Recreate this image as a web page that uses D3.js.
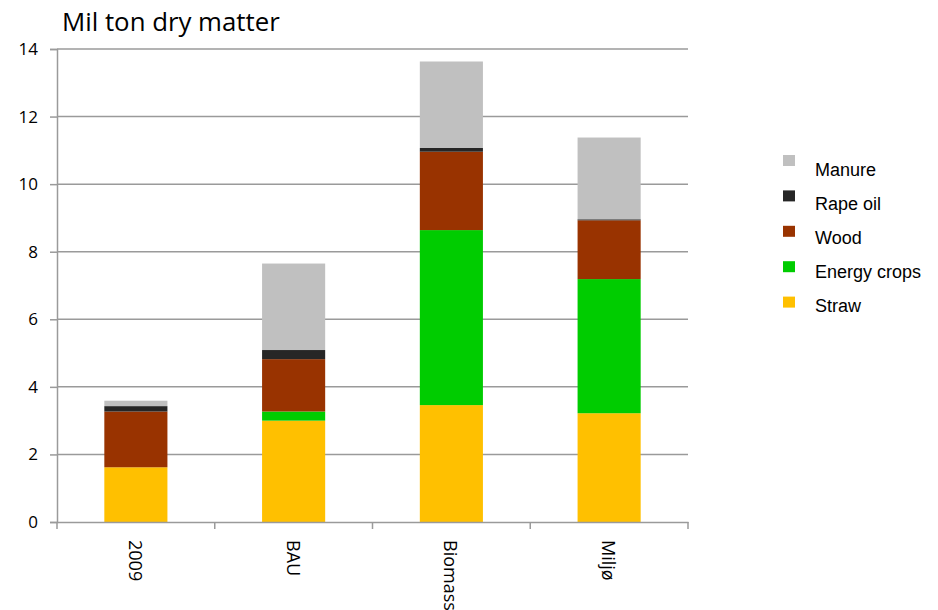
<!DOCTYPE html>
<html>
<head>
<meta charset="utf-8">
<script src="https://cdn.jsdelivr.net/npm/d3@7"></script>
<style>
  body { margin: 0; background: #fff; }
  svg { display: block; }
</style>
</head>
<body>
<svg id="chart" width="938" height="610"></svg>
<script>
const categories = ["2009", "BAU", "Biomass", "Miljø"];
const seriesNames = ["Straw", "Energy crops", "Wood", "Rape oil", "Manure"];
const straw       = [1.62, 3.00, 3.46, 3.22];
const energyCrops = [0.00, 0.27, 5.18, 3.97];
const wood        = [1.65, 1.55, 2.32, 1.74];
const rapeOil     = [0.16, 0.27, 0.11, 0.03];
const manure      = [0.16, 2.56, 2.56, 2.42];
const yTicks = [0, 2, 4, 6, 8, 10, 12, 14];
const colors = ["#FFC000", "#00CC00", "#993300", "#262626", "#C0C0C0"];
const titleText = "Mil ton dry matter";

const seriesValues = [straw, energyCrops, wood, rapeOil, manure];
const rows = categories.map((c, i) => {
  const r = { cat: c };
  seriesNames.forEach((s, j) => r[s] = seriesValues[j][i]);
  return r;
});

const svg = d3.select("#chart");
const mLeft = 57, mRight = 688, mTop = 49, mBottom = 522;

const x = d3.scaleBand().domain(categories).range([mLeft, mRight]).paddingInner(0.6).paddingOuter(0.3);
const xb = d3.scaleBand().domain(categories).range([mLeft, mRight]);
const y = d3.scaleLinear().domain([0, 14]).range([mBottom, mTop]);

const axisColor = "#9a9a9a";
const font = "'Open Sans', sans-serif";

// gridlines
svg.append("g").selectAll("line").data(yTicks.filter(d => d > 0)).join("line")
  .attr("x1", mLeft).attr("x2", mRight)
  .attr("y1", d => y(d)).attr("y2", d => y(d))
  .attr("stroke", axisColor).attr("stroke-width", 1.5);

// stacked bars
const stack = d3.stack().keys(seriesNames)(rows);
svg.append("g").selectAll("g").data(stack).join("g")
  .attr("fill", (d, i) => colors[i])
  .selectAll("rect").data(d => d).join("rect")
  .attr("x", d => x(d.data.cat))
  .attr("width", x.bandwidth())
  .attr("y", d => y(d[1]))
  .attr("height", d => Math.max(0, y(d[0]) - y(d[1])));

// y axis
const yAxis = svg.append("g").attr("transform", `translate(${mLeft},0)`)
  .call(d3.axisLeft(y).tickValues(yTicks).tickSize(7).tickPadding(12).tickFormat(d3.format("d")));
yAxis.select(".domain").attr("stroke", axisColor).attr("stroke-width", 1.5);
yAxis.selectAll(".tick line").attr("stroke", axisColor).attr("stroke-width", 1.5);
yAxis.selectAll("text").attr("font-family", font).attr("font-size", 17).attr("fill", "#000");

// x axis
const xAxis = svg.append("g").attr("transform", `translate(0,${mBottom})`)
  .call(d3.axisBottom(xb).tickSize(0).tickFormat(""));
xAxis.select(".domain").attr("stroke", axisColor).attr("stroke-width", 1.5);
const boundaries = categories.map(c => xb(c)).concat([mRight]);
xAxis.append("g").selectAll("line").data(boundaries).join("line")
  .attr("x1", d => d).attr("x2", d => d).attr("y1", 0).attr("y2", 7)
  .attr("stroke", axisColor).attr("stroke-width", 1.5);

// category labels rotated
svg.append("g").selectAll("text").data(categories).join("text")
  .attr("transform", d => `translate(${x(d) + x.bandwidth() / 2},${mBottom + 18}) rotate(90)`)
  .attr("text-anchor", "start")
  .attr("dominant-baseline", "central")
  .attr("font-family", font).attr("font-size", 18).attr("fill", "#000")
  .text(d => d);

// title
svg.append("text").attr("x", 62).attr("y", 31)
  .attr("font-family", font).attr("font-size", 25.8).attr("fill", "#000")
  .text(titleText);

// legend (reverse order: Manure on top)
const legendItems = seriesNames.map((s, i) => ({ name: s, color: colors[i] })).reverse();
const lg = svg.append("g").selectAll("g").data(legendItems).join("g");
lg.append("rect")
  .attr("x", 783).attr("y", (d, i) => 155 + i * 35.4)
  .attr("width", 12).attr("height", 11).attr("fill", d => d.color);
lg.append("text")
  .attr("x", 815).attr("y", (d, i) => 176 + i * 34)
  .attr("font-family", "'Liberation Sans', Arial, sans-serif").attr("font-size", 18).attr("fill", "#000")
  .text(d => d.name);
</script>
</body>
</html>
